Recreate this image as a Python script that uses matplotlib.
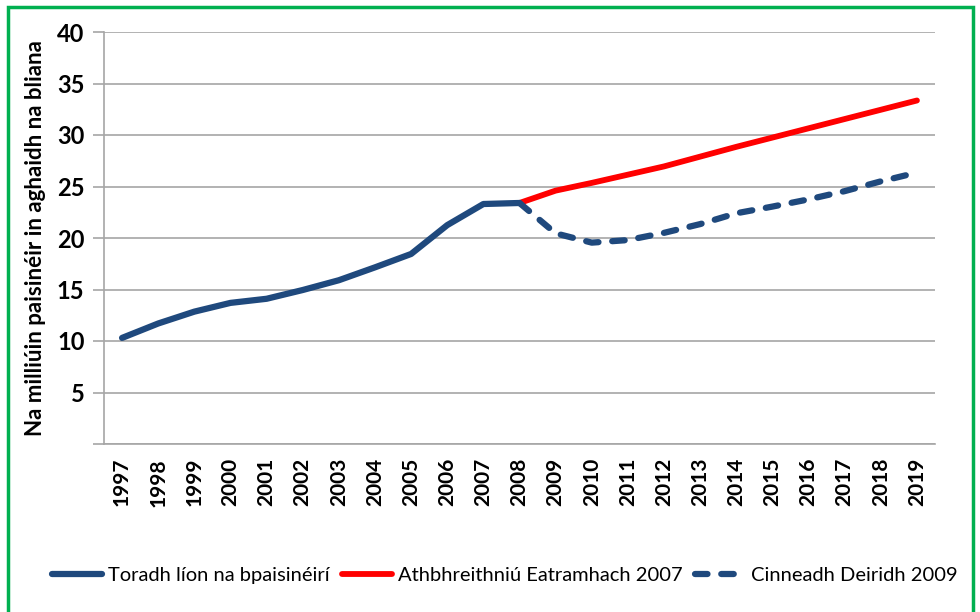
import matplotlib
matplotlib.use("Agg")
import matplotlib.pyplot as plt
from matplotlib.patches import Rectangle

# data
years = [str(y) for y in range(1997, 2020)]
actual_years = years[:12]  # 1997-2008
actual = [10.3, 11.7, 12.85, 13.7, 14.1, 14.95, 15.9, 17.15, 18.45, 21.25, 23.3, 23.4]
proj_years = years[11:]  # 2008-2019
review_2007 = [23.4, 24.6, 25.35, 26.15, 26.95, 27.9, 28.85, 29.75, 30.65, 31.55, 32.45, 33.35]
decision_2009 = [23.4, 20.45, 19.55, 19.8, 20.5, 21.35, 22.4, 23.05, 23.75, 24.55, 25.5, 26.35]

labels = ["Toradh líon na bpaisinéirí", "Athbhreithniú Eatramhach 2007", "Cinneadh Deiridh 2009"]
ylabel = "Na milliúin paisinéir in aghaidh na bliana"

plt.rcParams['font.family'] = ['Lato', 'DejaVu Sans']

blue = '#1F497D'
red = '#FF0000'
grid_col = '#A6A6A6'

fig = plt.figure(figsize=(9.8, 6.12), dpi=100)
ax = fig.add_axes([104/980, 1-444/612, (935-104)/980, (444-32)/612])

xa = list(range(len(actual_years)))
xp = list(range(11, 11 + len(proj_years)))

ax.plot(xp, review_2007, color=red, lw=4.2, solid_capstyle='round', label=labels[1], zorder=3)
ax.plot(xp, decision_2009, color=blue, lw=4.5, dashes=(2.0, 2.2), dash_capstyle='round',
        label=labels[2], zorder=4)
ax.plot(xa, actual, color=blue, lw=4.5, solid_capstyle='round', solid_joinstyle='round',
        label=labels[0], zorder=5)

ax.set_xlim(-0.5, 22.5)
ax.set_ylim(0, 40)
ax.set_yticks(range(0, 45, 5))
ax.set_yticklabels([''] + [str(v) for v in range(5, 45, 5)])
ax.set_xticks(range(len(years)))
ax.set_xticklabels(years, rotation=90)

ax.grid(axis='y', color=grid_col, lw=1.2)
ax.set_axisbelow(True)
for s in ['top', 'right']:
    ax.spines[s].set_visible(False)
ax.spines['left'].set_color(grid_col)
ax.spines['bottom'].set_color(grid_col)
ax.spines['left'].set_linewidth(1.2)
ax.spines['bottom'].set_linewidth(1.2)
ax.tick_params(axis='y', length=8, color=grid_col, width=1.2, labelsize=17, pad=6)
ax.tick_params(axis='x', length=0, labelsize=15, pad=10)
for t in ax.get_yticklabels() + ax.get_xticklabels():
    t.set_fontweight('bold')

ax.set_ylabel(ylabel, fontsize=16, fontweight='bold', labelpad=8)

handles, labs = ax.get_legend_handles_labels()
order = [2, 0, 1]
fig.legend([handles[i] for i in order], [labs[i] for i in order],
           loc='center', bbox_to_anchor=(0.515, 1-575/612), ncol=3, frameon=False,
           fontsize=14.5, handlelength=2.5, handletextpad=0.3, columnspacing=0.6)

fig.patches.append(Rectangle((8/980, -0.01), 0.985, 1-7/612 + 0.01, transform=fig.transFigure,
                             fill=False, edgecolor='#00B050', lw=2.5))

fig.savefig('out.png', dpi=100)
